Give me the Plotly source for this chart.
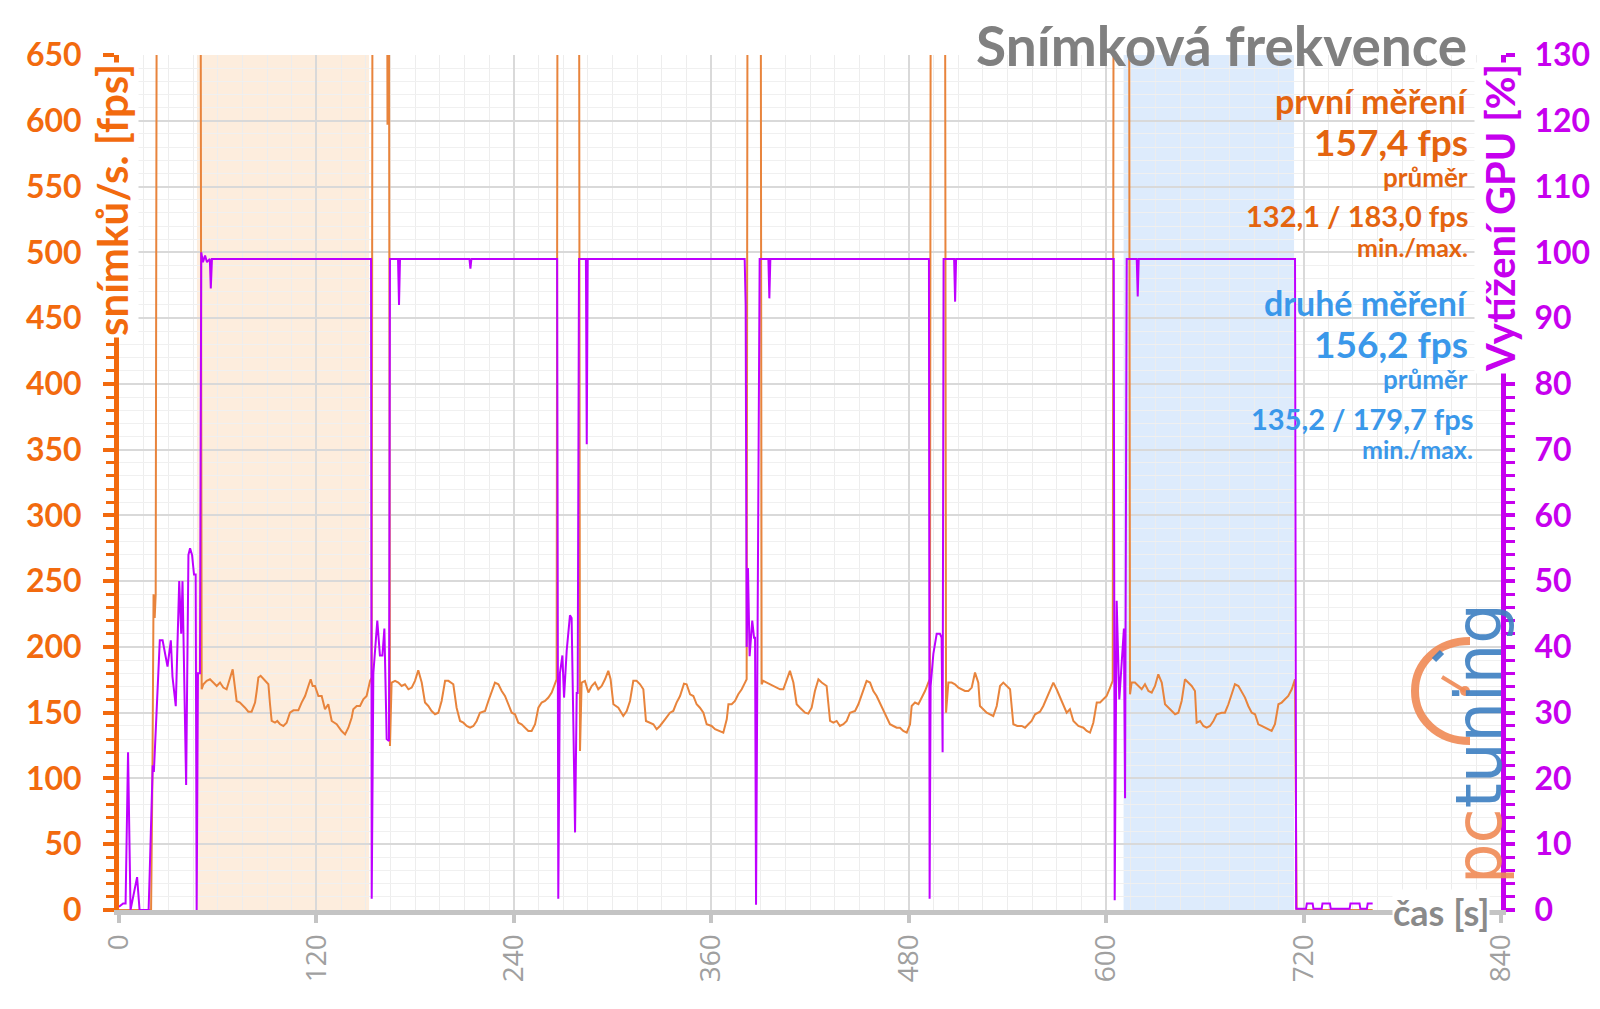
import plotly.graph_objects as go

# ------------------------------------------------------------------ data
# frame rate (fps) – time in seconds
# values of 1000 stand for loading screens far above the 650 fps axis limit
pre_t = [0, 5, 10, 15, 19.5, 20.3, 21.0, 21.7, 22.3, 23.3, 49.3]
pre_fps = [0, 0, 0, 0, 0, 100, 240, 222, 240, 1000, 1000]

run1_t = [50.25, 51.3, 53.3, 55.3, 57.3, 59.4, 61.4, 63.4, 65.4, 69.1, 71.5, 73.5, 76.6, 78.6, 80.6,
          82.7, 83.7, 84.7, 86.1, 88.8, 90.8, 91.8, 92.8, 94.8, 96.2, 97.9, 99.9, 101.9, 103.9,
          106.0, 109.0, 111.0, 113.1, 115.1, 116.5, 117.7, 119.1, 121.2, 123.2, 125.2, 127.2,
          129.3, 132.3, 135.3, 137.4, 139.4, 141.4, 142.4, 144.5, 146.5, 148.5, 150.5, 152.6,
          153.6, 154.3, 162.5, 163.2, 163.8]
run1_fps = [167.8, 171.6, 174.2, 175.4, 172.9, 170.3, 172.9, 169.1, 167.8, 183.0, 158.9, 157.7,
            153.8, 150.8, 150.8, 157.7, 166.5, 176.7, 178.0, 174.2, 171.6, 156.4, 143.7, 142.4,
            143.7, 141.2, 139.9, 142.4, 150.0, 151.8, 151.8, 157.7, 162.7, 170.3, 175.4, 170.3,
            170.3, 162.7, 162.7, 152.6, 156.4, 143.7, 141.2, 136.1, 133.5, 138.6, 146.2, 152.6,
            155.1, 155.1, 160.2, 162.7, 174.2, 176.7, 1000, 1000, 597, 1000]

run2_t = [164.7, 165.7, 167.8, 169.8, 171.8, 173.8, 175.9, 177.9, 179.9, 181.9, 184.0, 186.0,
          188.0, 190.0, 192.1, 194.1, 196.1, 198.2, 200.2, 203.2, 205.2, 207.3, 209.3, 211.3,
          213.4, 215.4, 217.4, 219.4, 222.5, 224.5, 226.5, 228.5, 230.6, 232.6, 234.6, 236.6,
          238.7, 240.7, 242.7, 244.7, 246.8, 248.8, 250.8, 252.9, 254.9, 256.9, 258.9, 261.0,
          263.0, 265.0, 266.0, 266.8, 279.4]
run2_fps = [124.7, 172.9, 174.2, 172.9, 170.3, 171.6, 167.8, 169.1, 174.2, 182.3, 172.9, 157.7,
            155.1, 151.3, 148.8, 150.0, 158.9, 174.2, 174.2, 171.6, 153.8, 143.7, 142.4, 139.9,
            138.6, 139.9, 143.7, 150.0, 151.3, 158.9, 166.5, 172.9, 171.6, 166.5, 162.7, 156.4,
            150.0, 148.8, 142.4, 141.2, 138.6, 136.1, 136.1, 141.2, 153.8, 157.7, 158.9, 161.5,
            165.3, 171.6, 175.4, 1000, 1000]

run3_t = [280.2, 281.2, 283.2, 285.3, 287.3, 289.3, 291.3, 293.4, 295.4, 297.4, 298.8, 300.5,
          303.5, 306.5, 308.6, 310.6, 312.6, 314.6, 316.7, 318.7, 320.3, 322.8, 324.8, 326.8,
          328.8, 331.9, 334.9, 336.9, 338.9, 341.0, 343.4, 345.0, 347.1, 349.1, 351.1, 353.1,
          355.2, 357.2, 360.2, 362.3, 365.3, 367.3, 369.4, 370.4, 372.4, 374.4, 376.4, 378.5,
          380.5, 381.5, 382.3, 389.8]
run3_fps = [120.9, 172.9, 174.2, 165.3, 170.3, 172.9, 167.8, 170.3, 175.4, 181.8, 175.4, 156.4,
            153.8, 147.5, 151.3, 158.9, 174.2, 174.2, 171.6, 167.8, 143.7, 142.4, 141.2, 137.4,
            139.9, 145.0, 150.0, 151.3, 157.7, 162.7, 172.1, 171.6, 164.0, 162.7, 156.4, 153.8,
            150.0, 141.2, 139.9, 137.4, 136.1, 134.8, 145.0, 156.4, 156.4, 158.9, 164.0, 167.8,
            172.9, 175.4, 1000, 1000]

run4_t = [390.6, 391.6, 393.7, 395.7, 397.7, 399.7, 401.8, 403.8, 405.8, 407.8, 409.9, 411.9,
          413.9, 417.0, 419.0, 421.0, 423.0, 425.1, 427.1, 430.1, 432.2, 434.2, 436.2, 438.2,
          440.3, 442.3, 444.3, 447.4, 449.4, 451.4, 454.4, 456.5, 458.5, 460.5, 462.5, 464.6,
          466.6, 468.6, 470.7, 472.7, 474.7, 476.7, 478.8, 480.8, 481.8, 483.8, 485.9, 487.9,
          489.9, 491.9, 492.9, 493.6, 501.8]
run4_fps = [171.6, 174.2, 172.9, 171.6, 170.3, 169.1, 167.8, 167.8, 175.4, 181.8, 172.9, 156.4,
            153.8, 150.0, 149.3, 153.8, 166.5, 175.4, 172.9, 170.3, 143.7, 142.4, 143.7, 139.9,
            141.2, 143.7, 150.0, 151.3, 156.4, 164.0, 174.2, 172.9, 166.5, 162.7, 157.7, 151.3,
            146.2, 141.2, 139.9, 138.6, 138.6, 136.1, 134.8, 141.2, 155.1, 157.7, 156.4, 161.5,
            166.5, 172.9, 175.4, 1000, 1000]

run5_t = [502.7, 504.1, 506.1, 508.1, 510.2, 512.2, 514.2, 516.3, 518.3, 520.3, 522.3, 523.3,
          525.4, 527.4, 529.4, 531.4, 533.5, 535.5, 537.5, 539.5, 541.6, 543.6, 546.0, 548.7,
          550.7, 552.7, 554.7, 556.8, 559.8, 561.8, 564.9, 567.9, 569.9, 571.9, 574.0, 576.0,
          578.0, 580.1, 583.1, 586.2, 588.2, 590.2, 592.2, 594.3, 596.3, 598.3, 600.3, 602.4,
          604.0, 604.8, 613.7]
run5_fps = [150.0, 172.9, 172.9, 171.6, 169.1, 167.8, 166.5, 166.5, 169.1, 180.5, 172.9, 155.1,
            152.6, 150.0, 148.8, 147.5, 155.1, 170.3, 172.9, 170.3, 167.8, 141.2, 139.9, 139.9,
            138.6, 141.2, 143.7, 148.8, 150.8, 155.1, 164.0, 172.9, 167.8, 161.5, 156.4, 150.0,
            152.6, 143.7, 139.9, 138.6, 136.1, 134.8, 142.4, 157.7, 157.7, 160.2, 162.7, 169.1,
            174.2, 1000, 1000]

run6_t = [614.5, 615.5, 617.5, 619.6, 621.6, 623.6, 625.7, 627.7, 629.7, 631.7, 633.8, 635.8,
          637.8, 639.8, 641.9, 643.9, 645.9, 647.9, 650.0, 652.0, 654.0, 655.0, 657.1, 659.1,
          661.1, 663.1, 665.2, 667.2, 670.2, 672.2, 674.3, 676.3, 678.3, 680.4, 682.4, 684.4,
          686.4, 688.5, 690.5, 692.5, 694.5, 696.6, 698.6, 700.6, 702.6, 704.7, 706.7, 708.7,
          710.7, 712.8, 714.8, 715.8, 762.0]
run6_fps = [164.0, 172.9, 172.9, 170.3, 167.8, 171.6, 166.5, 165.3, 170.3, 179.2, 172.9, 156.4,
            153.8, 151.3, 148.8, 150.0, 158.9, 175.4, 172.9, 170.3, 166.5, 142.4, 143.7, 139.9,
            138.6, 139.9, 143.7, 148.8, 150.0, 150.0, 156.4, 164.0, 171.6, 170.3, 165.3, 161.5,
            155.1, 150.0, 148.8, 141.2, 139.9, 138.6, 137.4, 136.1, 141.2, 156.4, 157.7, 160.2,
            162.7, 167.8, 175.4, 0, 0]

# GPU load (%) – time in seconds
gpu_pre_t = [0, 2.5, 4, 5.5, 7, 11, 12.5, 18, 18.7, 19.3, 20.5, 21.2, 24.8, 26.5, 28.5, 29.5,
             31.5, 32.5, 34.5, 36.6, 37.8, 38.6, 40.8, 42.2, 43.2, 44.4, 45.6, 46.6, 47.2, 48.0,
             49.2, 50.0]
gpu_pre = [0.5, 1, 1, 24, 0, 5, 0, 0, 6, 12, 22, 21, 41, 41, 38, 37, 41, 35.5, 31, 50, 42, 50,
           19, 54, 55, 54, 51, 51, 0, 36, 36, 100]

gpu_run_t = [51.0, 52.3, 53.5, 55.2, 55.8, 56.5, 153.2,
             153.6, 154.6, 157.0, 158.6, 160.1, 161.3, 162.7, 164.1, 164.7,
             169.6, 170.2, 170.8, 213.0, 213.6, 214.2, 266.3,
             267.0, 268.0, 269.5, 270.5, 272.1, 274.1, 275.1, 276.2, 277.2, 278.2, 278.8, 279.6,
             283.8, 284.3, 284.9, 380.3,
             380.9, 381.5, 382.3, 383.3, 384.9, 386.0, 386.6, 387.2, 388.2, 389.4,
             394.7, 395.3, 395.9, 492.3,
             492.7, 493.3, 495.0, 497.0, 499.0, 500.0, 500.6, 501.2,
             507.6, 508.2, 508.8, 604.6,
             605.2, 606.4, 608.0, 609.4, 610.8, 611.5, 612.5,
             618.6, 619.2, 619.8, 714.8]
gpu_run = [98.5, 99.5, 98.5, 99, 94.5, 99, 99,
           1.7, 36, 44, 38.7, 38.7, 42.8, 26, 25.7, 99,
           99, 92, 99, 99, 97.5, 99, 99,
           1.7, 36, 38.7, 32.3, 39.4, 44.8, 44.4, 27.8, 11.8, 33, 33, 99,
           99, 70.8, 99, 99,
           92, 40, 52, 38.6, 44, 41.4, 41.4, 0.8, 41.4, 99,
           99, 93, 99, 99,
           1.7, 34, 39, 42, 42, 41.4, 24, 99,
           99, 92.5, 99, 99,
           1.5, 47, 32, 38, 42.8, 17, 99,
           99, 93.3, 99, 99]

gpu_tail_t = [715.5, 721.5, 722.0, 725.5, 726.0, 731.0, 731.5, 736.0, 736.5, 748.0, 748.5,
              754.0, 754.5, 758.5, 759.0, 762.0]
gpu_tail = [0.2, 0.2, 1.0, 1.0, 0.2, 0.2, 1.0, 1.0, 0.2, 0.2, 1.0, 1.0, 0.2, 0.2, 1.0, 1.0]

# highlighted measurement intervals (s)
first_band = [47.4, 152.0]
second_band = [610.6, 714.2]

x_ticks = [0, 120, 240, 360, 480, 600, 720, 840]

title_text = "Snímková frekvence"
first_label = ["první měření", "157,4 fps", "průměr", "132,1 / 183,0 fps", "min./max."]
second_label = ["druhé měření", "156,2 fps", "průměr", "135,2 / 179,7 fps", "min./max."]

# ------------------------------------------------------------------ styling
ORANGE_AX = "#f26a0e"
ORANGE_TXT = "#e4640f"
FPS_LINE = "#e8843c"
MAGENTA_AX = "#c600ee"
GPU_LINE = "#bf00ff"
BLUE_TXT = "#3a98ea"
GRAY = "#8a8a8a"
FONT = "Lato"

fps_t = pre_t + run1_t + run2_t + run3_t + run4_t + run5_t + run6_t
fps_v = pre_fps + run1_fps + run2_fps + run3_fps + run4_fps + run5_fps + run6_fps
gpu_t = gpu_pre_t + gpu_run_t + gpu_tail_t
gpu_v = gpu_pre + gpu_run + gpu_tail

fig = go.Figure()
fig.add_trace(go.Scatter(x=fps_t, y=fps_v, mode="lines", line=dict(color=FPS_LINE, width=2),
                         yaxis="y", showlegend=False, hoverinfo="skip"))
fig.add_trace(go.Scatter(x=gpu_t, y=gpu_v, mode="lines", line=dict(color=GPU_LINE, width=2),
                         yaxis="y2", showlegend=False, hoverinfo="skip"))

# shaded measurement bands
for band, col in [(first_band, "rgba(252,226,200,0.62)"), (second_band, "rgba(205,226,250,0.68)")]:
    fig.add_shape(type="rect", xref="x", yref="paper", x0=band[0], x1=band[1], y0=0, y1=1,
                  fillcolor=col, line=dict(width=0), layer="below")

W, H = 1600, 1009
L, R, T, B = 119, 99, 55, 99
PW, PH = W - L - R, H - T - B


def px(xp):
    return (xp - L) / PW


def py(yp):
    return (H - B - yp) / PH


annotations = []
annotations.append(dict(text="<b>" + title_text + "</b>", x=px(1469), y=py(45), xref="paper", yref="paper",
                        xanchor="right", yanchor="middle", showarrow=False,
                        font=dict(family=FONT, size=55, color="#808080")))

# stacked statistic labels (sizes and vertical centres in pixels)
label_sizes = [34, 37, 26, 29, 25]
first_y = [100, 141, 177, 216, 247]
second_y = [302, 343, 379, 418, 449]
first_right = [1469, 1469, 1469, 1469, 1469]
second_right = [1469, 1469, 1469, 1474, 1474]
for labels, ys, rights, col in [(first_label, first_y, first_right, ORANGE_TXT),
                                (second_label, second_y, second_right, BLUE_TXT)]:
    for txt, s, yy, rx in zip(labels, label_sizes, ys, rights):
        annotations.append(dict(text="<b>" + txt + "</b>", x=px(rx), y=py(yy), xref="paper", yref="paper",
                                xanchor="right", yanchor="middle", showarrow=False, borderpad=0,
                                font=dict(family=FONT, size=s, color=col)))

# axis titles
annotations.append(dict(text="<b>snímků/s. [fps]</b>", textangle=-90, x=px(112), y=py(62),
                        xref="paper", yref="paper", xanchor="center", yanchor="top", showarrow=False,
                        bgcolor="white", font=dict(family=FONT, size=42, color=ORANGE_AX)))
annotations.append(dict(text="<b>Vytížení GPU [%]</b>", textangle=-90, x=px(1500), y=py(62),
                        xref="paper", yref="paper", xanchor="center", yanchor="top", showarrow=False,
                        bgcolor="white", font=dict(family=FONT, size=40, color=MAGENTA_AX)))
annotations.append(dict(text="<b>čas [s]</b>", x=px(1490), y=py(912), xref="paper", yref="paper",
                        xanchor="right", yanchor="middle", showarrow=False, bgcolor="white",
                        borderpad=0, font=dict(family=FONT, size=36, color=GRAY)))
# logo
annotations.append(dict(text="<span style='color:#f08a55'>pc</span><span style='color:#3d7fc2'>tuning</span>",
                        textangle=-90, x=px(1479), y=py(744), xref="paper", yref="paper",
                        xanchor="center", yanchor="middle", showarrow=False, opacity=0.9, borderpad=0,
                        font=dict(family="DejaVu Sans", size=64)))

# gauge of the logo (decoration)
cx, cy, r = 1465, 691, 50
k = 0.5523
rx, ry = r / PW, r / PH
X, Y = px(cx), py(cy)
arc = (f"M {X + 0.1 * rx},{Y + ry} C {X - k * rx},{Y + ry} {X - rx},{Y + k * ry} {X - rx},{Y} "
       f"C {X - rx},{Y - k * ry} {X - k * rx},{Y - ry} {X + 0.1 * rx},{Y - ry}")
fig.add_shape(type="path", xref="paper", yref="paper", path=arc,
              line=dict(color="#f08a55", width=8), opacity=0.9)
fig.add_shape(type="line", xref="paper", yref="paper", x0=px(1442), y0=py(677), x1=px(1465), y1=py(691),
              line=dict(color="#f08a55", width=4), opacity=0.9)
fig.add_shape(type="circle", xref="paper", yref="paper", x0=px(1460), y0=py(686), x1=px(1470), y1=py(696),
              fillcolor="#f08a55", line=dict(width=0), opacity=0.9)
fig.add_shape(type="line", xref="paper", yref="paper", x0=px(1434), y0=py(660), x1=px(1442), y1=py(652),
              line=dict(color="#3d7fc2", width=6), opacity=0.9)

fig.update_layout(
    width=W, height=H, autosize=False,
    margin=dict(l=L, r=R, t=T, b=B, pad=0, autoexpand=False),
    paper_bgcolor="white", plot_bgcolor="white",
    showlegend=False,
    annotations=annotations,
    xaxis=dict(range=[0, 840], tickvals=x_ticks, tickangle=-90, zeroline=False, automargin=False,
               showgrid=True, gridcolor="#d9d9d9", gridwidth=2,
               minor=dict(dtick=15, tick0=0, showgrid=True, gridcolor="#ededed", gridwidth=1),
               showline=True, linecolor="#c4c4c4", linewidth=5,
               ticks="outside", ticklen=8, tickwidth=4, tickcolor="#c4c4c4",
               tickfont=dict(family="Open Sans", size=28, color="#a0a0a0")),
    yaxis=dict(range=[0, 650], dtick=50, tick0=0, zeroline=False, automargin=False,
               showgrid=True, gridcolor="#d9d9d9", gridwidth=2,
               minor=dict(dtick=10, showgrid=True, gridcolor="#f0f0f0", gridwidth=1,
                          ticks="outside", ticklen=8, tickwidth=3, tickcolor=ORANGE_AX),
               showline=True, linecolor=ORANGE_AX, linewidth=5,
               ticks="outside", ticklen=11, tickwidth=4, tickcolor=ORANGE_AX,
               ticklabelstandoff=15,
               tickfont=dict(family=FONT, size=32, color=ORANGE_AX, weight="bold")),
    yaxis2=dict(range=[0, 130], dtick=10, tick0=0, overlaying="y", side="right", zeroline=False,
                showgrid=False, automargin=False,
                minor=dict(dtick=2, ticks="outside", ticklen=9, tickwidth=3, tickcolor=MAGENTA_AX),
                showline=True, linecolor=MAGENTA_AX, linewidth=5,
                ticks="outside", ticklen=9, tickwidth=4, tickcolor=MAGENTA_AX,
                ticklabelstandoff=13,
                tickfont=dict(family=FONT, size=32, color=MAGENTA_AX, weight="bold")),
    yaxis3=dict(range=[0, 650], dtick=50, tick0=0, overlaying="y", side="left", zeroline=False,
                showgrid=False, showline=False, showticklabels=False, automargin=False,
                ticks="inside", ticklen=13, tickwidth=4, tickcolor=ORANGE_AX),
    yaxis4=dict(range=[0, 130], dtick=10, tick0=0, overlaying="y", side="right", zeroline=False,
                showgrid=False, showline=False, showticklabels=False, automargin=False,
                minor=dict(dtick=2, ticks="inside", ticklen=5, tickwidth=3, tickcolor=MAGENTA_AX),
                ticks="inside", ticklen=11, tickwidth=4, tickcolor=MAGENTA_AX),
)

fig.write_html("out.html")
